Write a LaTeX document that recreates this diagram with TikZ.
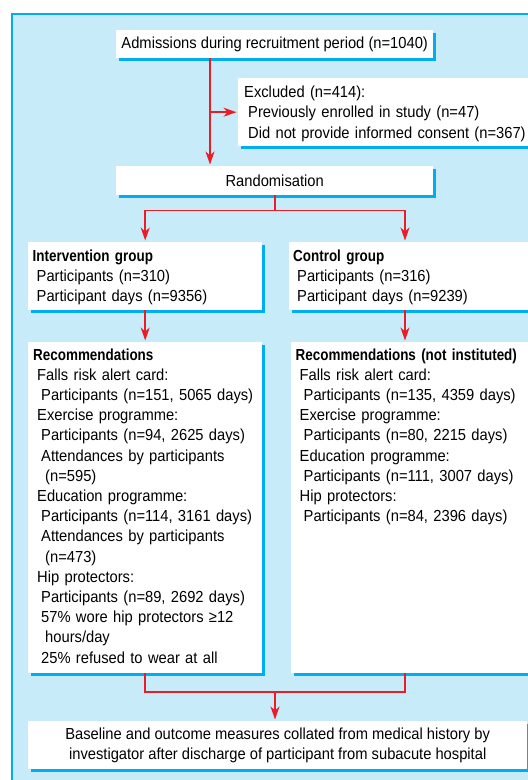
\documentclass[tikz,border=0pt]{standalone}
\usepackage{fontspec}
\setmainfont[FakeStretch=0.92,BoldFeatures={FakeStretch=0.84}]{Liberation Sans}
\usetikzlibrary{arrows.meta,shadows}

\definecolor{bgblue}{RGB}{200,235,250}
\definecolor{frameblue}{RGB}{0,174,239}
\definecolor{arrowred}{RGB}{236,28,36}

\newcommand{\lvl}[1]{\hspace*{#1pt}}

\tikzset{
    box/.style={fill=white, inner sep=0pt, anchor=north west,
        drop shadow={shadow xshift=3pt, shadow yshift=-3pt, fill=frameblue, opacity=1}},
    txt/.style={inner sep=0pt, anchor=base west, align=left, text width=320pt,
        font=\fontsize{16}{20.2}\selectfont},
    link/.style={arrowred, line width=1.6pt},
    arr/.style={link, -{Stealth[length=13pt,width=9pt,inset=4pt]}, shorten >=1.5pt}
}

\begin{document}
\begin{tikzpicture}[x=1pt,y=-1pt]
    \useasboundingbox (0,0) rectangle (528,780);
    \clip (0,0) rectangle (528,780);
    % background panel
    \fill[bgblue] (12,14) rectangle (532,784);
    \draw[frameblue, line width=2pt] (12,784)--(12,14)--(532,14);

    % boxes
    \node[box, minimum width=317pt, minimum height=28pt,
        font=\fontsize{16}{20}\selectfont] (adm) at (116,30) {Admissions during recruitment period (n=1040)};
    \node[box, minimum width=290pt, minimum height=68pt] (excl) at (238,78) {};
    \node[box, minimum width=317pt, minimum height=29pt,
        font=\fontsize{16}{20}\selectfont] (rand) at (116,166) {Randomisation};
    \node[box, minimum width=234pt, minimum height=68pt] (intv) at (28,242) {};
    \node[box, minimum width=239pt, minimum height=68pt] (ctrl) at (288.5,242) {};
    \node[box, minimum width=234pt, minimum height=331pt] (recI) at (28,342) {};
    \node[box, minimum width=237pt, minimum height=331pt] (recC) at (290.5,342) {};
    \node[box, minimum width=499pt, minimum height=48pt, align=center,
        font=\fontsize{16}{19.5}\selectfont] (base) at (28,721)
        {Baseline and outcome measures collated from medical history by\\
         investigator after discharge of participant from subacute hospital};

    % texts
    \node[txt, font=\fontsize{16}{20.5}\selectfont] at ([shift={(6,19)}]excl.north west)
        {Excluded (n=414):\\
         \lvl{4}Previously enrolled in study (n=47)\\
         \lvl{4}Did not provide informed consent (n=367)};
    \node[txt] at ([shift={(4.5,19)}]intv.north west)
        {\textbf{Intervention group}\\
         \lvl{4}Participants (n=310)\\
         \lvl{4}Participant days (n=9356)};
    \node[txt] at ([shift={(4.5,19)}]ctrl.north west)
        {\textbf{Control group}\\
         \lvl{4}Participants (n=316)\\
         \lvl{4}Participant days (n=9239)};
    \node[txt] at ([shift={(5,18)}]recI.north west)
        {\textbf{Recommendations}\\
         \lvl{4}Falls risk alert card:\\
         \lvl{8}Participants (n=151, 5065 days)\\
         \lvl{4}Exercise programme:\\
         \lvl{8}Participants (n=94, 2625 days)\\
         \lvl{8}Attendances by participants\\
         \lvl{12}(n=595)\\
         \lvl{4}Education programme:\\
         \lvl{8}Participants (n=114, 3161 days)\\
         \lvl{8}Attendances by participants\\
         \lvl{12}(n=473)\\
         \lvl{4}Hip protectors:\\
         \lvl{8}Participants (n=89, 2692 days)\\
         \lvl{8}57\% wore hip protectors ≥12\\
         \lvl{12}hours/day\\
         \lvl{8}25\% refused to wear at all};
    \node[txt] at ([shift={(5,18)}]recC.north west)
        {\textbf{Recommendations (not instituted)}\\
         \lvl{4}Falls risk alert card:\\
         \lvl{8}Participants (n=135, 4359 days)\\
         \lvl{4}Exercise programme:\\
         \lvl{8}Participants (n=80, 2215 days)\\
         \lvl{4}Education programme:\\
         \lvl{8}Participants (n=111, 3007 days)\\
         \lvl{4}Hip protectors:\\
         \lvl{8}Participants (n=84, 2396 days)};

    % connectors
    \coordinate (trunk) at ([xshift=94pt]adm.south west);
    \draw[arr] (trunk) -- (trunk |- rand.north);
    \draw[arr] (trunk |- excl.west) -- (excl.west);
    \draw[link] (rand.south) -- ++(0,15) coordinate (split);
    \coordinate (ctrlin) at ([xshift=116.5pt]ctrl.north west);
    \draw[arr] (split) -| (intv.north);
    \draw[arr] (split) -| (ctrlin);
    \draw[arr] (intv.south) -- (recI.north);
    \draw[arr] (ctrlin |- ctrl.south) -- (ctrlin |- recC.north);
    \coordinate (join) at (275,692);
    \draw[link] (recI.south) |- (join) -| (ctrlin |- recC.south);
    \draw[arr] (join) -- (join |- base.north);
\end{tikzpicture}
\end{document}
